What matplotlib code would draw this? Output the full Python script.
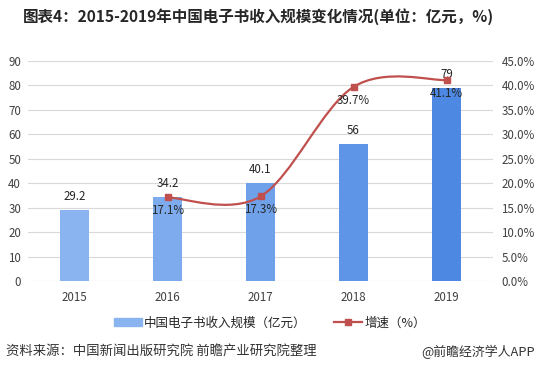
import matplotlib
matplotlib.use("Agg")
from matplotlib import pyplot as plt
from matplotlib.path import Path
from matplotlib.patches import PathPatch, Patch
from matplotlib.lines import Line2D

plt.rcParams['font.family'] = ['Noto Sans CJK SC', 'DejaVu Sans']

years = ['2015', '2016', '2017', '2018', '2019']
revenue = [29.2, 34.2, 40.1, 56, 79]
growth_years = [1, 2, 3, 4]
growth = [17.1, 17.3, 39.7, 41.1]
bar_colors = ['#8ab4f0', '#7eabee', '#6fa0ea', '#5f95e6', '#4d88e2']
line_color = '#c0504d'
text_color = '#404040'

fig = plt.figure(figsize=(5.4, 3.73), dpi=100)
ax = fig.add_axes([0.052, 0.2466, 0.861, 0.5899])
ax2 = ax.twinx()

x = list(range(len(years)))
ax.bar(x, revenue, width=0.31, color=bar_colors, zorder=2)
ax.set_xlim(-0.5, 4.5)
ax.set_ylim(0, 90)
ax.set_yticks(range(0, 91, 10))
ax.yaxis.grid(True, color='#d9d9d9', linewidth=0.8, zorder=0)
ax.set_axisbelow(True)
ax.set_xticks(x)
ax.set_xticklabels(years)
for s in ax.spines.values():
    s.set_visible(False)
for s in ax2.spines.values():
    s.set_visible(False)
ax.tick_params(length=0, labelsize=8.3, colors=text_color, pad=5)
ax.tick_params(axis='x', pad=7)

for xi, v in zip(x, revenue):
    ax.annotate(f'{v:g}', (xi, v), xytext=(0, 5), textcoords='offset points',
                ha='center', va='bottom', fontsize=8.3, color='#262626')

# smooth line (excel style bezier through the points)
ax2.set_ylim(0, 45)
ax2.set_yticks(range(0, 46, 5))
ax2.set_yticklabels([f'{t:.1f}%' for t in range(0, 46, 5)])
ax2.tick_params(length=0, labelsize=8.3, colors=text_color, pad=6)

pts = list(zip(growth_years, growth))
verts = [pts[0]]
codes = [Path.MOVETO]
for i in range(len(pts) - 1):
    p0 = pts[i - 1] if i > 0 else pts[i]
    p1 = pts[i]
    p2 = pts[i + 1]
    p3 = pts[i + 2] if i + 2 < len(pts) else pts[i + 1]
    c1 = (p1[0] + (p2[0] - p0[0]) / 6, p1[1] + (p2[1] - p0[1]) / 6)
    c2 = (p2[0] - (p3[0] - p1[0]) / 6, p2[1] - (p3[1] - p1[1]) / 6)
    verts += [c1, c2, p2]
    codes += [Path.CURVE4] * 3
ax2.add_patch(PathPatch(Path(verts, codes), fill=False, edgecolor=line_color,
                        linewidth=1.6, zorder=3))
ax2.plot(growth_years, growth, linestyle='none', marker='s', markersize=5,
         color=line_color, zorder=4)
for xi, v in zip(growth_years, growth):
    ax2.annotate(f'{v:.1f}%', (xi, v), xytext=(0, -5), textcoords='offset points',
                 ha='center', va='top', fontsize=8.3, color='#262626')

fig.text(0.042, 0.955, '图表4：2015-2019年中国电子书收入规模变化情况(单位：亿元，%)',
         fontsize=11.2, fontweight='bold', color='#262626', va='center')

handles = [Patch(color=bar_colors[0]),
           Line2D([0], [0], color=line_color, marker='s', markersize=5, linewidth=1.6)]
fig.legend(handles, ['中国电子书收入规模（亿元）', '增速（%）'], loc='center',
           bbox_to_anchor=(0.5, 0.134), ncol=2, frameon=False, fontsize=9,
           handlelength=2.2, handleheight=0.6, columnspacing=2.2, handletextpad=0.2,
           labelcolor='#262626')

fig.text(0.012, 0.056, '资料来源：中国新闻出版研究院 前瞻产业研究院整理',
         fontsize=9.6, color='#333333', va='center')
fig.text(0.99, 0.056, '@前瞻经济学人APP', fontsize=9.3, color='#333333',
         va='center', ha='right')

fig.savefig('out.png', dpi=100)
